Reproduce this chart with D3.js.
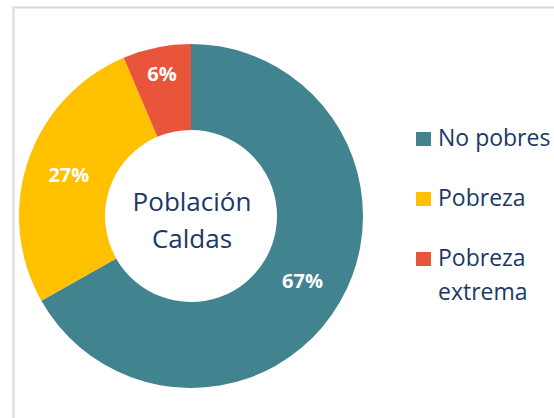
<!DOCTYPE html>
<html>
<head>
<meta charset="utf-8">
<script src="https://cdn.jsdelivr.net/npm/d3@7"></script>
<style>
  body { margin: 0; background: #fff; }
  svg { display: block; }
</style>
</head>
<body>
<svg id="chart" width="554" height="418"></svg>
<script>
// Datos
var categories = ["No pobres", "Pobreza", "Pobreza extrema"];
var values = [66.8, 26.8, 6.4];
var colors = ["#41848f", "#ffc000", "#e9553b"];
var centerLabel = ["Población", "Caldas"];

var svg = d3.select("#chart");
var textColor = "#203864";

// marco del grafico
svg.append("rect")
  .attr("x", 13.5).attr("y", 7.5)
  .attr("width", 600).attr("height", 500)
  .attr("fill", "none")
  .attr("stroke", "#d9d9d9")
  .attr("stroke-width", 2);

var cx = 191, cy = 216;
var outerR = 172, innerR = 86;

var pie = d3.pie().sort(null).value(function(d) { return d; });
var arcs = pie(values);

var arc = d3.arc().innerRadius(innerR).outerRadius(outerR);

var g = svg.append("g").attr("transform", "translate(" + cx + "," + cy + ")");

g.selectAll("path.slice")
  .data(arcs)
  .enter().append("path")
  .attr("class", "slice")
  .attr("d", arc)
  .attr("fill", function(d, i) { return colors[i]; });

// etiquetas: en la mitad del anillo, las porciones angostas un poco mas afuera
function labelRadius(d) {
  var span = d.endAngle - d.startAngle;
  return span < 0.5 ? 145 : (innerR + outerR) / 2;
}

g.selectAll("text.pct")
  .data(arcs)
  .enter().append("text")
  .attr("class", "pct")
  .attr("transform", function(d) {
    var r = labelRadius(d);
    var c = d3.arc().innerRadius(r).outerRadius(r).centroid(d);
    return "translate(" + c[0] + "," + c[1] + ")";
  })
  .attr("text-anchor", "middle")
  .attr("dy", "0.36em")
  .attr("font-family", "Open Sans, sans-serif")
  .attr("font-weight", "bold")
  .attr("font-size", 20)
  .attr("fill", "#fff")
  .text(function(d) { return Math.round(d.data) + "%"; });

// texto central
g.selectAll("text.center")
  .data(centerLabel)
  .enter().append("text")
  .attr("class", "center")
  .attr("x", 1)
  .attr("y", function(d, i) { return -5 + i * 37; })
  .attr("text-anchor", "middle")
  .attr("font-family", "Open Sans, sans-serif")
  .attr("font-size", 26)
  .attr("fill", textColor)
  .text(function(d) { return d; });

// leyenda
var legendX = 416, legendY = 146, legendStep = 60;
var legend = svg.append("g");

var items = legend.selectAll("g.item")
  .data(categories)
  .enter().append("g")
  .attr("class", "item")
  .attr("transform", function(d, i) { return "translate(" + legendX + "," + (legendY + i * legendStep) + ")"; });

items.append("rect")
  .attr("x", 0).attr("y", -14)
  .attr("width", 15).attr("height", 14)
  .attr("fill", function(d, i) { return colors[i]; });

items.each(function(d) {
  var words = d === "Pobreza extrema" ? ["Pobreza", "extrema"] : [d];
  var t = d3.select(this).append("text")
    .attr("font-family", "Open Sans, sans-serif")
    .attr("font-size", 23)
    .attr("fill", textColor);
  words.forEach(function(w, j) {
    t.append("tspan").attr("x", 22).attr("y", j * 34).text(w);
  });
});
</script>
</body>
</html>
